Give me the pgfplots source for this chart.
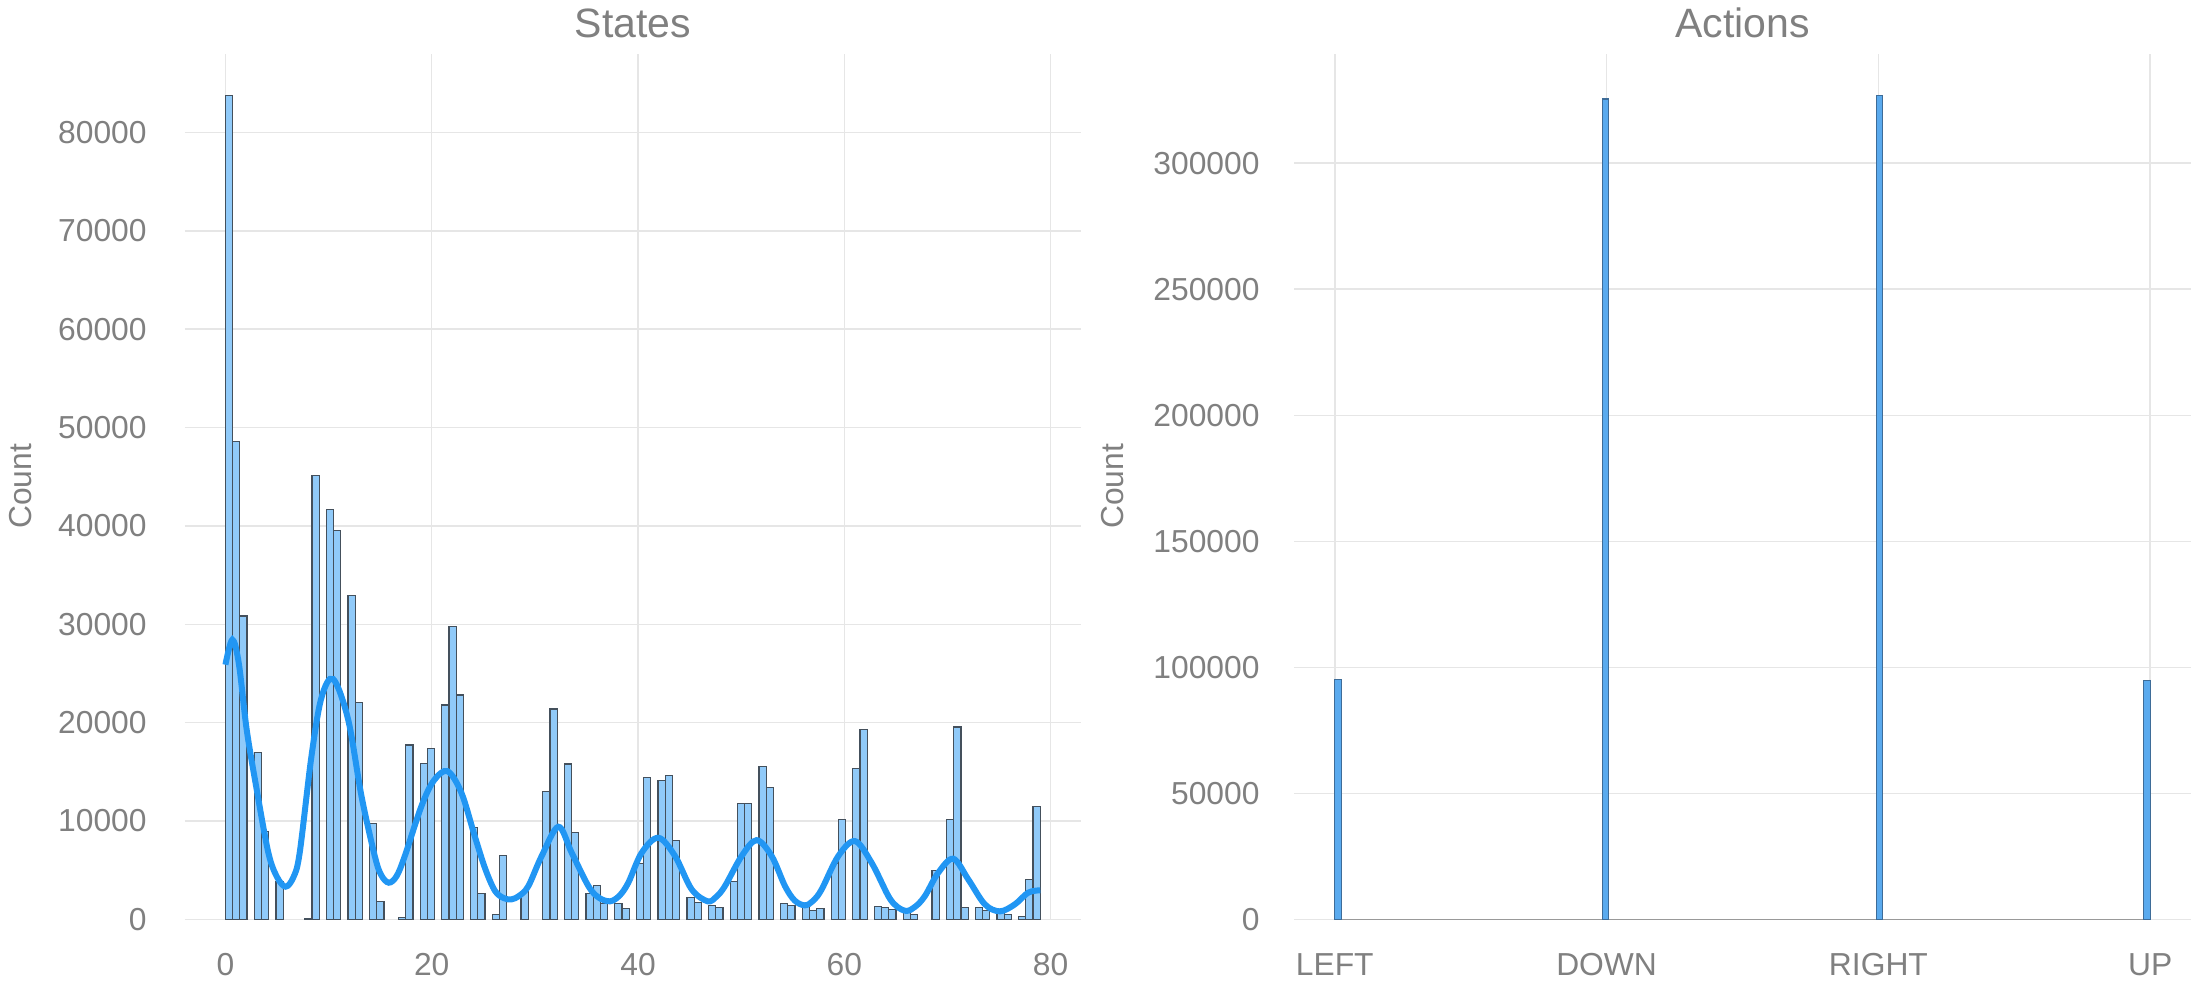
\documentclass[border=0pt]{standalone}
\usepackage{fontspec}
\setmainfont{Liberation Sans}
\usepackage{pgfplots}
\usepackage{pgfplotstable}
\pgfplotsset{compat=1.18}
\definecolor{txt}{HTML}{808080}
\definecolor{gridc}{HTML}{E6E6E6}
\definecolor{kde}{HTML}{2196F3}
\definecolor{barfill}{HTML}{90CAF9}
\definecolor{baredge}{HTML}{44505C}
\definecolor{abarfill}{HTML}{5AAAEE}
\definecolor{abaredge}{HTML}{3E6C98}

\pgfplotstableread{
s c
0 83800
1 48550
2 30850
3 16950
4 8900
5 3820
8 100
9 45140
10 41680
11 39520
12 32900
13 22060
14 9710
15 1790
17 170
18 17730
19 15840
20 17330
21 21790
22 29750
23 22810
24 9310
25 2610
26 470
27 6460
29 2810
31 12960
32 21390
33 15800
34 8800
35 2610
36 3420
37 1590
38 1590
39 1080
40 5690
41 14380
42 14080
43 14590
44 7990
45 2200
46 1690
47 1390
48 1180
49 3820
50 11740
51 11740
52 15500
53 13370
54 1590
55 1390
56 1300
57 880
58 1080
59 5690
60 10120
61 15300
62 19260
63 1290
64 1180
65 980
66 800
67 470
69 4940
70 10120
71 19560
72 1180
73 1180
74 880
75 700
76 470
77 270
78 4030
79 11440
}\statesdata

\pgfplotstableread{
x c
0.012 95200
0.996 325500
2.004 327000
2.988 94700
}\actionsdata

\pgfplotsset{
  common/.style={
    scale only axis,
    height=432.65pt,
    ymin=0,
    axis x line*=bottom,
    axis y line*=left,
    axis line style={draw=none,-},
    major tick length=0pt,
    xmajorgrids, ymajorgrids,
    grid style={gridc, line width=0.75pt},
    tick label style={font=\fontsize{15.9}{19}\selectfont, text=txt},
    /pgf/number format/assume math mode=true,
    scaled y ticks=false,
    yticklabel style={/pgf/number format/fixed, /pgf/number format/1000 sep={}},
    xticklabel style={anchor=north, yshift=-13.6pt},
    anchor=south west,
  }
}

\begin{document}
\begin{tikzpicture}
\path[use as bounding box] (0,0) rectangle (1100pt,500pt);

\begin{axis}[common,
  at={(92.35pt,40.35pt)},
  width=448.15pt,
  xmin=-3.95, xmax=82.95, ymax=87990,
  xtick={0,20,40,60,80},
  ytick={0,10000,20000,30000,40000,50000,60000,70000,80000},
  yticklabel style={anchor=east, xshift=-15.5pt},
]
\addplot[ybar, bar width=0.69912, bar shift=0pt, fill=barfill, draw=baredge, line width=0.6pt]
  table[x expr={(min(floor(\thisrow{s}*113/79),112)+0.5)*79/113}, y=c]{\statesdata};
\addplot[kde, line width=3pt, smooth, tension=0.55] coordinates {
(0,25890) (0.67,28430) (1.3,26000) (2.06,19290) (3.03,13200) (4.16,6770) (5.0,4300) (5.84,3320)
(6.6,4300) (7.2,6770) (8.34,16580) (9.3,22500) (10.44,24430) (11.9,20300) (13.19,12520)
(14.48,6430) (15.1,4500) (15.84,3720) (16.6,4400) (17.39,6430) (19.0,11500) (20.2,14100) (21.53,15060)
(22.88,12860) (24.17,8460) (25.2,5100) (26.14,2880) (27.0,2150) (27.75,2030) (28.5,2400) (29.37,3380)
(30.66,6430) (32.28,9410) (33.57,6770) (35.19,3380) (36.2,2200) (37.29,1830) (38.2,2400) (39.06,3720)
(40.36,6770) (41.97,8290) (43.59,6430) (45.2,3050) (46.75,1830) (47.6,2300) (48.43,3380)
(50.05,6430) (51.5,8050) (52.96,6430) (54.25,3380) (55.2,1900) (56.19,1420) (57.0,1900) (57.81,3050)
(59.42,6430) (61.04,7950) (62.65,5750) (64.27,2370) (65.1,1300) (66.04,850) (66.9,1300) (67.82,2370)
(69.11,4740) (70.57,6160) (72.02,4060) (73.63,1520) (75.09,810) (76.54,1520) (77.83,2710) (79,2950)
};
\end{axis}

\begin{axis}[common,
  at={(647pt,40.35pt)},
  width=448.5pt,
  xmin=-0.15, xmax=3.15, ymax=343350,
  xtick={0,1,2,3},
  xticklabels={LEFT,DOWN,RIGHT,UP},
  ytick={0,50000,100000,150000,200000,250000,300000},
  yticklabel style={anchor=east, xshift=-13.7pt},
]
\addplot[draw=black!40, line width=0.6pt] coordinates {(0,0) (3,0)};
\addplot[ybar, bar width=0.024, bar shift=0pt, fill=abarfill, draw=abaredge, line width=0.6pt]
  table[x=x, y=c]{\actionsdata};
\end{axis}

\node[font=\fontsize{20.5}{25}\selectfont, text=txt, anchor=base] at (316.4pt,481pt) {States};
\node[font=\fontsize{20.5}{25}\selectfont, text=txt, anchor=base] at (871.25pt,481pt) {Actions};
\node[font=\fontsize{15.9}{19}\selectfont, text=txt, rotate=90] at (10.5pt,256.75pt) {Count};
\node[font=\fontsize{15.9}{19}\selectfont, text=txt, rotate=90] at (556.5pt,256.75pt) {Count};
\end{tikzpicture}
\end{document}
